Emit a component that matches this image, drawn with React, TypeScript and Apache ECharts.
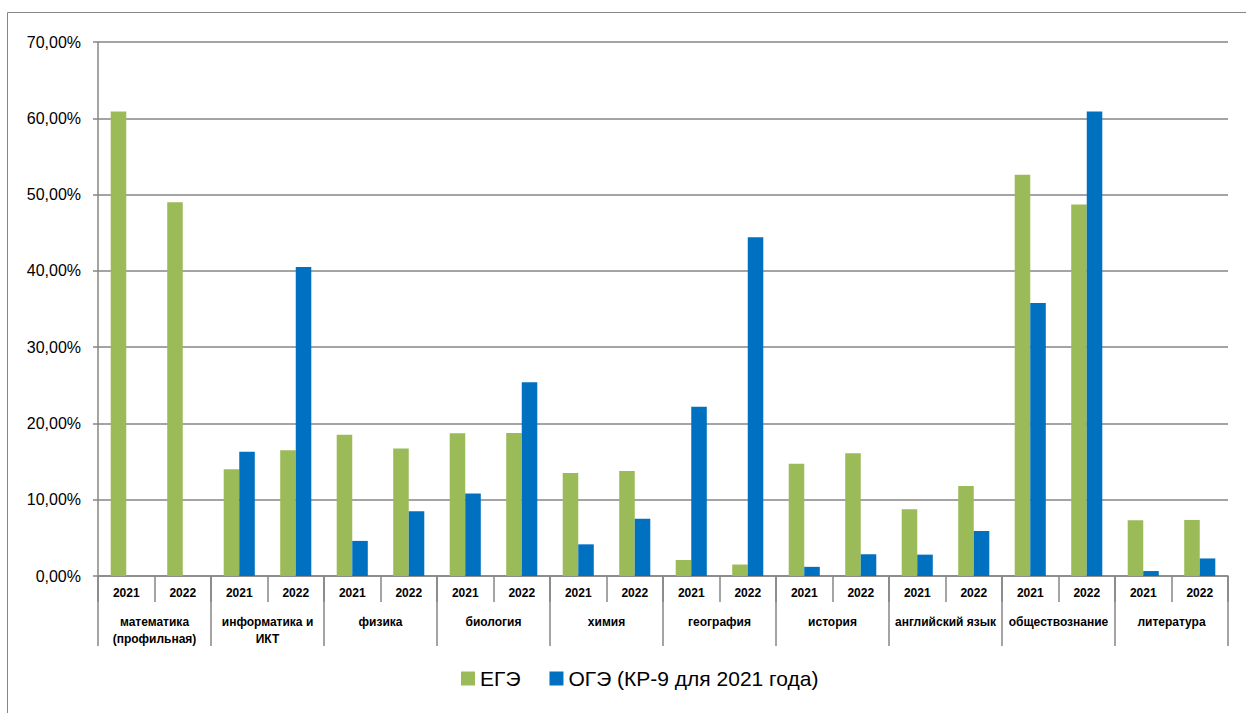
import React, { useEffect, useRef } from "react";
import * as echarts from "echarts";

const subjects = [
  "математика\n(профильная)",
  "информатика и\nИКТ",
  "физика",
  "биология",
  "химия",
  "география",
  "история",
  "английский язык",
  "обществознание",
  "литература",
];
const years = ["2021", "2022"];
const yearCategories = subjects.flatMap((s) => years.map((y) => y));

const egeValues = [
  60.9, 49.0, 14.0, 16.5, 18.5, 16.7, 18.7, 18.75, 13.5, 13.75,
  2.1, 1.5, 14.7, 16.1, 8.75, 11.8, 52.6, 48.7, 7.3, 7.35,
];
const ogeValues: (number | null)[] = [
  null, null, 16.3, 40.5, 4.6, 8.5, 10.8, 25.4, 4.15, 7.5,
  22.2, 44.4, 1.2, 2.85, 2.8, 5.9, 35.8, 60.9, 0.65, 2.3,
];
const seriesNames = ["ЕГЭ", "ОГЭ (КР-9 для 2021 года)"];

const FONT = "'Liberation Sans', Arial, sans-serif";
const GRAY = "#868686";

export default function App() {
  const ref = useRef<HTMLDivElement>(null);
  useEffect(() => {
    if (!ref.current) return;
    const chart = echarts.init(ref.current, null, { renderer: "svg" });
    chart.setOption({
      animation: false,
      backgroundColor: "#ffffff",
      textStyle: { fontFamily: FONT },
      graphic: [
        {
          type: "rect",
          shape: { x: 7.5, y: 12.5, width: 1300, height: 800 },
          style: { fill: "none", stroke: GRAY, lineWidth: 1 },
          silent: true,
        },
      ],
      grid: { left: 98, right: 18, top: 42, bottom: 137, containLabel: false },
      legend: {
        bottom: 19,
        left: 456,
        itemWidth: 14,
        itemHeight: 14,
        itemGap: 29,
        icon: "rect",
        textStyle: { fontFamily: FONT, fontSize: 21, color: "#000" },
        data: seriesNames,
      },
      xAxis: [
        {
          type: "category",
          data: yearCategories,
          position: "bottom",
          axisLine: { show: true, lineStyle: { color: GRAY, width: 1.5 } },
          axisTick: { show: true, length: 26, lineStyle: { color: GRAY, width: 1.5 } },
          axisLabel: {
            interval: 0,
            margin: 11,
            fontFamily: FONT,
            fontSize: 12,
            fontWeight: "bold",
            color: "#000",
          },
          splitLine: { show: false },
        },
        {
          type: "category",
          data: subjects,
          position: "bottom",
          axisLine: { show: false },
          axisTick: { show: true, length: 70, lineStyle: { color: GRAY, width: 1.5 } },
          axisLabel: {
            interval: 0,
            margin: 37,
            fontFamily: FONT,
            fontSize: 12,
            fontWeight: "bold",
            color: "#000",
            lineHeight: 17,
            verticalAlign: "top",
          },
          splitLine: { show: false },
        },
      ],
      yAxis: {
        type: "value",
        min: 0,
        max: 70,
        interval: 10,
        axisLine: { show: true, lineStyle: { color: GRAY, width: 1.5 } },
        axisTick: { show: true, length: 5, lineStyle: { color: GRAY, width: 1.5 } },
        axisLabel: {
          margin: 17,
          fontFamily: FONT,
          fontSize: 16,
          color: "#000",
          formatter: (v: number) => v.toFixed(2).replace(".", ",") + "%",
        },
        splitLine: { show: true, lineStyle: { color: GRAY, width: 1.5 } },
      },
      series: [
        {
          name: seriesNames[0],
          type: "bar",
          xAxisIndex: 0,
          data: egeValues,
          barCategoryGap: "45%",
          barGap: "0%",
          itemStyle: { color: "#9BBB59" },
        },
        {
          name: seriesNames[1],
          type: "bar",
          xAxisIndex: 0,
          data: ogeValues,
          barCategoryGap: "45%",
          barGap: "0%",
          itemStyle: { color: "#0070C0" },
        },
      ],
    });
    return () => chart.dispose();
  }, []);
  return (
    <div
      ref={ref}
      style={{ position: "fixed", left: 0, top: 0, width: 1246, height: 713, background: "#fff" }}
    />
  );
}
